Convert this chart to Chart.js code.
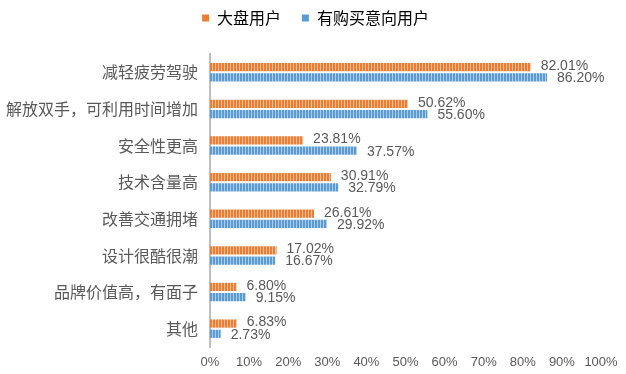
<!DOCTYPE html>
<html>
<head>
<meta charset="utf-8">
<script src="https://cdn.jsdelivr.net/npm/chart.js@4/dist/chart.umd.min.js"></script>
<style>
  html, body { margin: 0; padding: 0; background: #fff; }
  #wrap { width: 626px; height: 374px; }
</style>
</head>
<body>
<div id="wrap"><canvas id="chart"></canvas></div>
<script>
// 数据
const categories = ['减轻疲劳驾驶', '解放双手，可利用时间增加', '安全性更高', '技术含量高', '改善交通拥堵', '设计很酷很潮', '品牌价值高，有面子', '其他'];
const dapanValues = [82.01, 50.62, 23.81, 30.91, 26.61, 17.02, 6.80, 6.83];
const yixiangValues = [86.20, 55.60, 37.57, 32.79, 29.92, 16.67, 9.15, 2.73];
const seriesNames = ['大盘用户', '有购买意向用户'];
const colors = ['#ED7D31', '#5B9BD5'];

// 竖条纹填充
function stripe(color) {
    const c = document.createElement('canvas');
    c.width = 3; c.height = 10;
    const g = c.getContext('2d');
    g.fillStyle = color;
    g.fillRect(0, 0, 3, 10);
    g.fillStyle = 'rgba(255,255,255,0.5)';
    g.fillRect(2, 0, 1, 10);
    return g.createPattern(c, 'repeat');
}

// 数据标签 + 固定图例高度
const labelPlugin = {
    id: 'barLabels',
    beforeInit(chart) {
        const legend = chart.legend;
        if (legend) {
            const origFit = legend.fit;
            legend.fit = function () {
                origFit.call(this);
                this.height = 54;
            };
        }
    },
    afterLayout(chart) {
        // 图例整体右移一点
        if (chart.legend) {
            chart.legend.left += 13;
            chart.legend.right += 13;
        }
    },
    afterDatasetsDraw(chart) {
        const ctx = chart.ctx;
        ctx.save();
        ctx.font = '14px "Liberation Sans", Arial, sans-serif';
        ctx.fillStyle = '#595959';
        ctx.textBaseline = 'middle';
        chart.data.datasets.forEach((ds, i) => {
            const meta = chart.getDatasetMeta(i);
            meta.data.forEach((bar, j) => {
                const y = bar.y + (i === 0 ? -1 : 1);
                ctx.fillText(ds.data[j].toFixed(2) + '%', bar.x + 10, y);
            });
        });
        ctx.restore();
    }
};

const ctx = document.getElementById('chart').getContext('2d');
new Chart(ctx, {
    type: 'bar',
    data: {
        labels: categories,
        datasets: [{
            label: seriesNames[0],
            data: dapanValues,
            backgroundColor: stripe(colors[0]),
            borderWidth: 0
        }, {
            label: seriesNames[1],
            data: yixiangValues,
            backgroundColor: stripe(colors[1]),
            borderWidth: 0
        }]
    },
    options: {
        indexAxis: 'y',
        responsive: true,
        maintainAspectRatio: false,
        animation: false,
        barPercentage: 0.8,
        categoryPercentage: 0.56,
        layout: { padding: { left: 4, right: 25, top: 0, bottom: 4 } },
        plugins: {
            legend: {
                position: 'top',
                labels: {
                    boxWidth: 7,
                    boxHeight: 7,
                    padding: 10,
                    color: '#595959',
                    font: { size: 16, family: '"Noto Sans CJK SC", sans-serif' },
                    generateLabels(chart) {
                        return chart.data.datasets.map((ds, i) => ({
                            text: i === 0 ? ds.label + '   ' : ds.label,
                            fillStyle: colors[i],
                            strokeStyle: 'rgba(0,0,0,0)',
                            lineWidth: 0,
                            datasetIndex: i
                        }));
                    }
                }
            },
            tooltip: { enabled: false }
        },
        scales: {
            x: {
                min: 0,
                max: 100,
                grid: { display: false, drawTicks: false },
                border: { display: false },
                afterFit(scale) { scale.height = 23; },
                ticks: {
                    stepSize: 10,
                    maxRotation: 0,
                    autoSkip: false,
                    color: '#595959',
                    padding: 8,
                    font: { size: 13, family: '"Liberation Sans", Arial, sans-serif' },
                    callback: v => v + '%'
                }
            },
            y: {
                grid: { display: false, drawTicks: false },
                border: { display: true, color: '#bfbfbf', width: 2 },
                afterFit(scale) { scale.width = 206; },
                ticks: {
                    color: '#595959',
                    padding: 12,
                    font: { size: 16, family: '"Noto Sans CJK SC", sans-serif' }
                }
            }
        }
    },
    plugins: [labelPlugin]
});
</script>
</body>
</html>
